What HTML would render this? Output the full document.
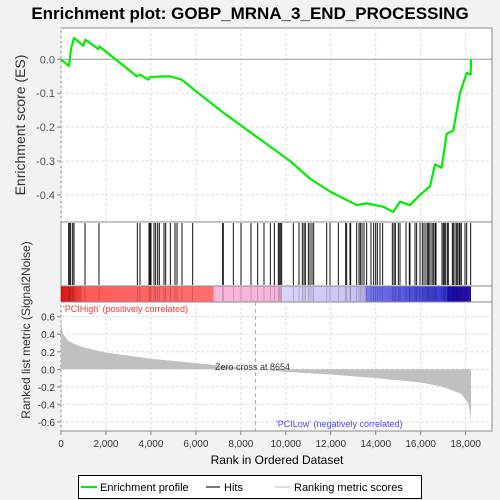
<!DOCTYPE html>
<html><head><meta charset="utf-8"><style>
body{margin:0;background:#f2f2f2;}
svg{display:block;font-family:"Liberation Sans",sans-serif;}
</style></head><body>
<svg id="c" width="500" height="500">
<rect x="0" y="0" width="500" height="500" fill="#f2f2f2"/>
<text x="250" y="19" text-anchor="middle" font-weight="bold" font-size="17">Enrichment plot: GOBP_MRNA_3_END_PROCESSING</text>
<rect x="61" y="28" width="431" height="403" fill="#fff" stroke="#888"/>
<line x1="61" y1="222" x2="492" y2="222" stroke="#888"/>
<line x1="61" y1="286" x2="492" y2="286" stroke="#888"/>
<line x1="61" y1="302" x2="492" y2="302" stroke="#888"/>
<defs><linearGradient id="cb" x1="0" x2="1">
<stop offset="0" stop-color="#dd1111"/><stop offset="0.05" stop-color="#f04040"/><stop offset="0.05" stop-color="#ff5a5a"/>
<stop offset="0.37" stop-color="#ff7070"/><stop offset="0.375" stop-color="#f9b8d8"/><stop offset="0.535" stop-color="#f6b4dc"/>
<stop offset="0.54" stop-color="#d8d4f6"/><stop offset="0.74" stop-color="#c4c0f4"/><stop offset="0.745" stop-color="#7878f0"/>
<stop offset="0.86" stop-color="#5050e0"/><stop offset="0.94" stop-color="#3838d8"/><stop offset="0.945" stop-color="#1a0ab8"/><stop offset="1" stop-color="#2a10b0"/>
</linearGradient></defs>
<rect x="61" y="286.5" width="410" height="15" fill="url(#cb)"/>
<g id="grid"></g><g id="marks"></g><g id="axes"></g>
<text x="63" y="312" font-size="9" fill="#ff3333">'PCIHigh' (positively correlated)</text>
<text x="276" y="427" font-size="9" fill="#4444ff">'PCILow' (negatively correlated)</text>
<text x="215" y="370" font-size="9" fill="#333">Zero cross at 8654</text>
<text x="277" y="464" text-anchor="middle" font-size="12">Rank in Ordered Dataset</text>
<text transform="translate(25,125) rotate(-90)" text-anchor="middle" font-size="14" fill="#333">Enrichment score (ES)</text>
<text transform="translate(30,330) rotate(-90)" text-anchor="middle" font-size="12" fill="#333">Ranked list metric (Signal2Noise)</text>
<g>
<rect x="78.5" y="475.5" width="343" height="23" fill="#fff" stroke="#000"/>
<line x1="81" y1="487" x2="97" y2="487" stroke="#00ee00" stroke-width="2"/>
<text x="100" y="491" font-size="11">Enrichment profile</text>
<line x1="206" y1="487" x2="220" y2="487" stroke="#777" stroke-width="2"/>
<text x="224" y="491" font-size="11">Hits</text>
<line x1="275" y1="487" x2="290" y2="487" stroke="#ddd" stroke-width="2"/>
<text x="294" y="491" font-size="11">Ranking metric scores</text>
</g>
</svg>
<script>
const hitRanks=[341,386,430,519,578,1068,1690,3396,3514,3915,3959,4004,4137,4211,4300,4374,4582,4656,4864,5071,5160,5383,5857,7192,7221,7666,8007,8452,8749,9030,9312,9490,9668,9712,9772,9816,10335,10587,10735,10810,10869,11002,11077,11166,11240,11818,11966,12337,12663,12708,12856,12886,13153,13256,13316,13390,13479,13597,13790,13909,13998,14072,14190,14309,14739,14813,14872,15006,15080,15347,15495,15525,15747,15821,15970,16073,16148,16237,16311,16355,16415,16504,16563,16637,16681,16948,17008,17052,17111,17186,17230,17408,17453,17527,17601,17631,17705,17749,17809,17972,18046,18224];
const esRanks=[0,356,400,445,578,993,1082,1661,1705,3366,3514,3885,3959,4849,5368,5887,7192,10187,11076,11966,13152,13597,14339,14783,15080,15525,15970,16415,16637,16934,17156,17453,17749,18046,18224,18238];
const esValues=[0,-0.02,0.005,0.03,0.063,0.04,0.058,0.03,0.038,-0.05,-0.045,-0.06,-0.052,-0.05,-0.06,-0.088,-0.156,-0.30,-0.352,-0.39,-0.43,-0.425,-0.435,-0.45,-0.42,-0.43,-0.40,-0.375,-0.31,-0.32,-0.22,-0.21,-0.10,-0.04,-0.045,0.0];
const metricRanks=[0,30,100,300,500,1000,2000,4000,6000,8654,10000,12000,14000,16000,17000,17800,18100,18200,18238];
const metricValues=[0.6,0.48,0.4,0.33,0.3,0.25,0.19,0.12,0.07,0,-0.03,-0.06,-0.10,-0.15,-0.2,-0.28,-0.38,-0.5,-0.63];
const xTicks=[0,2000,4000,6000,8000,10000,12000,14000,16000,18000];
const esTicks=[0.0,-0.1,-0.2,-0.3,-0.4];
const metricTicks=[0.6,0.4,0.2,0.0,-0.2,-0.4,-0.6];
const NS='http://www.w3.org/2000/svg';
const X=r=>61+r*0.02248;
const YE=v=>59.3-v*339;
const YM=v=>369.3-v*87.7;
function mk(t,a,p){const e=document.createElementNS(NS,t);for(const k in a)e.setAttribute(k,a[k]);p.appendChild(e);return e;}
const grid=document.getElementById('grid'),marks=document.getElementById('marks'),axes=document.getElementById('axes');
xTicks.forEach(t=>{
 [[28,222],[302,431]].forEach(([a,b])=>{const l=mk('line',{x1:X(t),x2:X(t),y1:a,y2:b,stroke:'#ddd','stroke-dasharray':'3,2'},grid);
 
 });
 mk('line',{x1:X(t),x2:X(t),y1:431,y2:435,stroke:'#888'},axes);
 const tx=mk('text',{x:X(t),y:447,'text-anchor':'middle','font-size':'10',fill:'#333'},axes);tx.textContent=t.toLocaleString('en-US');
 
 
});
esTicks.forEach(t=>{
 if(t!==0){const g=mk('line',{x1:61,x2:492,y1:YE(t),y2:YE(t),stroke:'#ddd','stroke-dasharray':'3,2'},grid);
 
 }
 mk('line',{x1:57,x2:61,y1:YE(t),y2:YE(t),stroke:'#888'},axes);
 const tx=mk('text',{x:55,y:YE(t)+4,'text-anchor':'end','font-size':'11',fill:'#555'},axes);tx.textContent=t.toFixed(1);
 
 
});
metricTicks.forEach(t=>{
 const g=mk('line',{x1:61,x2:492,y1:YM(t),y2:YM(t),stroke:'#ddd','stroke-dasharray':'3,2'},grid);
 
 
 mk('line',{x1:57,x2:61,y1:YM(t),y2:YM(t),stroke:'#888'},axes);
 const tx=mk('text',{x:55,y:YM(t)+4,'text-anchor':'end','font-size':'10',fill:'#333'},axes);tx.textContent=t.toFixed(1);
 
 
});
const zl=mk('line',{x1:61,x2:492,y1:YE(0),y2:YE(0),stroke:'#999'},grid);


const zc=mk('line',{x1:X(8654),x2:X(8654),y1:302,y2:431,stroke:'#aaa','stroke-dasharray':'4,3'},grid);


let d='M'+X(metricRanks[0])+','+YM(0);
metricRanks.forEach((r,i)=>{d+=' L'+X(r)+','+YM(metricValues[i]);});
d+=' L'+X(metricRanks[metricRanks.length-1])+','+YM(0)+'Z';
const area=mk('path',{d:d,fill:'#c0c0c0'},marks);


hitRanks.forEach(r=>{const l=mk('line',{x1:X(r),x2:X(r),y1:223,y2:285,stroke:'#111','stroke-width':'1'},marks);
 
 
 const c=mk('line',{x1:X(r),x2:X(r),y1:287,y2:301,stroke:'#000','stroke-opacity':'0.25','stroke-width':'0.7'},marks);
 
 
});
const pts=esRanks.map((r,i)=>X(r)+','+YE(esValues[i])).join(' ');
const es=mk('polyline',{points:pts,fill:'none',stroke:'#00ee00','stroke-width':'2.2','stroke-linejoin':'round'},marks);


</script>
</body></html>
